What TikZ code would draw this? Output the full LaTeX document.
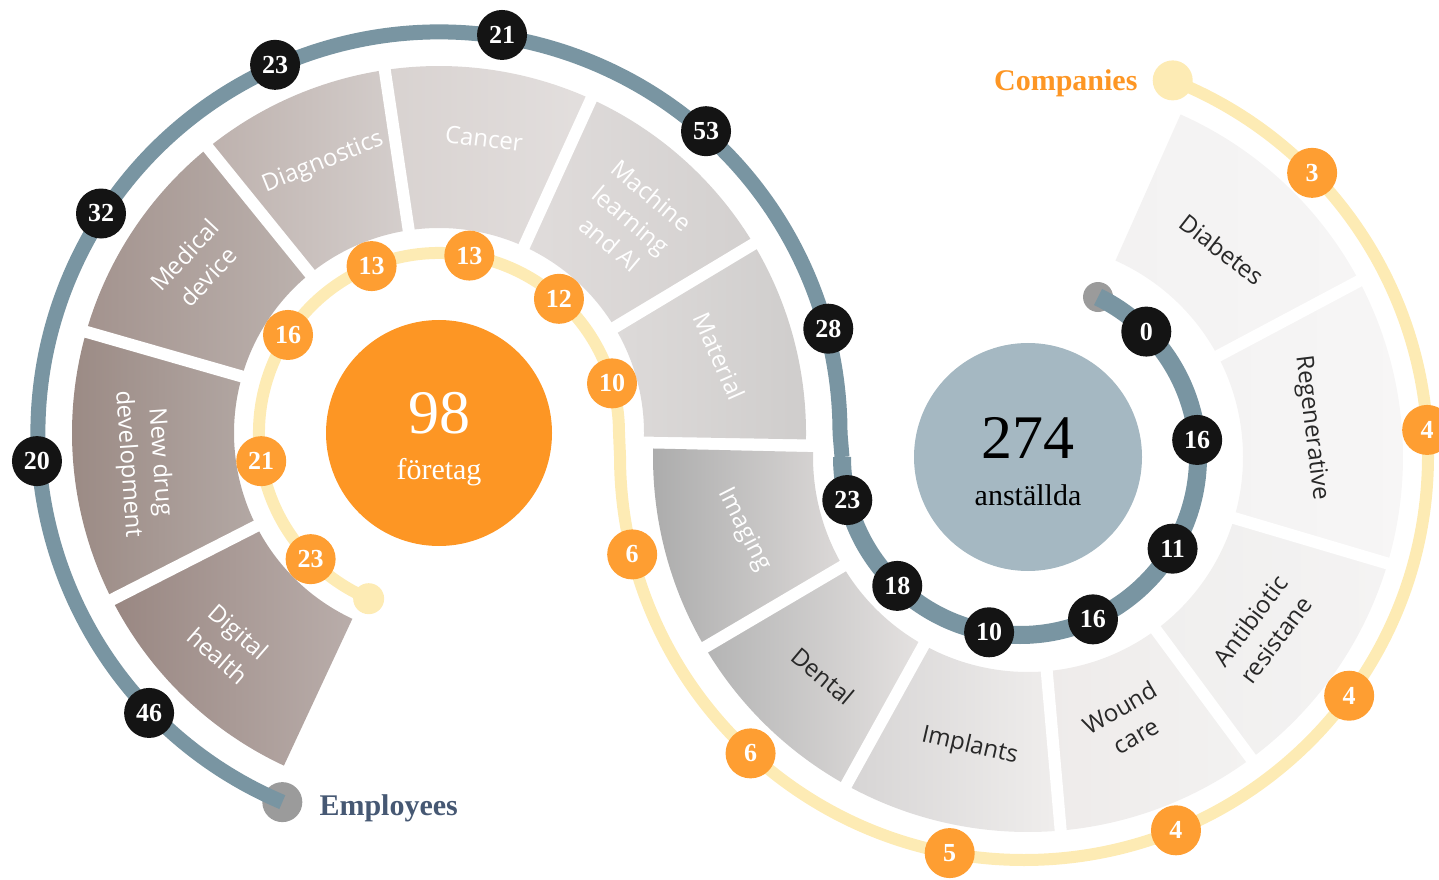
\documentclass[tikz,border=0pt]{standalone}
\usepackage{fontspec}
\setmainfont{Liberation Serif}
\newfontfamily\sansfont{Open Sans}
\usetikzlibrary{calc}
\definecolor{bluspir}{RGB}{121,149,162}
\definecolor{gialspir}{RGB}{253,235,180}
\definecolor{arancio}{RGB}{253,150,36}
\definecolor{aranciob}{RGB}{254,158,50}
\definecolor{nerob}{RGB}{20,20,20}
\definecolor{grigioblu}{RGB}{165,184,194}
\definecolor{puntogr}{RGB}{155,155,155}
\definecolor{titoloblu}{RGB}{70,88,115}
\definecolor{testo}{RGB}{40,40,40}
\definecolor{dhA}{RGB}{153,135,130}\definecolor{dhB}{RGB}{185,173,170}
\definecolor{ndA}{RGB}{154,137,131}\definecolor{ndB}{RGB}{179,168,164}
\definecolor{mdA}{RGB}{163,147,142}\definecolor{mdB}{RGB}{188,178,174}
\definecolor{dgA}{RGB}{189,177,173}\definecolor{dgB}{RGB}{213,207,205}
\definecolor{caA}{RGB}{216,210,208}\definecolor{caB}{RGB}{227,223,222}
\definecolor{mlA}{RGB}{224,220,219}\definecolor{mlB}{RGB}{211,208,207}
\definecolor{maA}{RGB}{221,218,217}\definecolor{maB}{RGB}{207,205,204}
\definecolor{imA}{RGB}{172,172,172}\definecolor{imB}{RGB}{220,217,216}
\definecolor{deA}{RGB}{180,180,180}\definecolor{deB}{RGB}{229,226,225}
\definecolor{ipA}{RGB}{214,212,212}\definecolor{ipB}{RGB}{240,238,237}
\definecolor{woA}{RGB}{238,235,234}\definecolor{woB}{RGB}{243,242,241}
\definecolor{anA}{RGB}{240,239,238}\definecolor{anB}{RGB}{244,243,243}
\definecolor{reA}{RGB}{244,243,243}\definecolor{reB}{RGB}{247,246,246}
\definecolor{diA}{RGB}{243,242,242}\definecolor{diB}{RGB}{246,245,245}

\begin{document}
\begin{tikzpicture}[x=1pt,y=1pt,
    gap/.style={white, line width=12},
    blu/.style={bluspir, line width=15},
    gial/.style={gialspir, line width=12},
    dip/.style={circle, fill=nerob, text=white, minimum size=50, inner sep=0, font=\bfseries\fontsize{26}{26}\selectfont},
    az/.style={circle, fill=aranciob, text=white, minimum size=50, inner sep=0, font=\bfseries\fontsize{26}{26}\selectfont},
    settL/.style={text=white, align=center, font=\sansfont\fontsize{24}{32}\selectfont},
    settR/.style={text=testo, align=center, font=\sansfont\fontsize{24}{32}\selectfont}]
    \useasboundingbox (0,0) rectangle (1439,879);

    % Centri
    \coordinate (L) at (439,446);
    \coordinate (R) at (1028,422);
    \coordinate (Rb) at (1020,422);
    \coordinate (Ry) at (1024,423);

    % Settori a sinistra
    \foreach \a/\b/\ca/\cb in {207/245/dhA/dhB, 164/207/ndA/ndB, 129/164/mdA/mdB, 98.5/129/dgA/dgB, 65.5/98.5/caA/caB, 31/65.5/mlA/mlB, -1/31/maA/maB}
    \shade[left color=\ca, right color=\cb] ($(L)+(\a:205)$) arc[start angle=\a, end angle=\b, radius=205] -- ($(L)+(\b:367)$) arc[start angle=\b, end angle=\a, radius=367] -- cycle;

    % Settori a destra
    \foreach \a/\b/\ca/\cb in {178.7/210.5/imA/imB, 210.5/241/deA/deB, 241/275/ipA/ipB, 275/306.5/woA/woB, 306.5/343.5/anA/anB, 343.5/388/reA/reB, 388/426/diA/diB}
    \shade[left color=\ca, right color=\cb] ($(R)+(\a:215)$) arc[start angle=\a, end angle=\b, radius=215] -- ($(R)+(\b:375)$) arc[start angle=\b, end angle=\a, radius=375] -- cycle;

    % Spazi bianchi
    \foreach \a in {207,164,129,98.5,65.5,31}
    \draw[gap] ($(L)+(\a:195)$) -- ($(L)+(\a:380)$);
    \foreach \a in {210.5,241,275,306.5,343.5,28}
    \draw[gap] ($(R)+(\a:205)$) -- ($(R)+(\a:388)$);

    % Punti finali
    \node[circle, fill=puntogr, minimum size=40, inner sep=0] (pEmp) at ($(L)+(247:401)$) {};
    \node[circle, fill=puntogr, minimum size=30, inner sep=0] (pFine) at ($(Rb)+(64:178)$) {};
    \node[circle, fill=gialspir, minimum size=40, inner sep=0] (pComp) at ($(Ry)+(68.4:404)$) {};
    \node[circle, fill=gialspir, minimum size=31, inner sep=0] (pInizio) at ($(L)+(247:180)$) {};

    % Spirale blu
    \draw[blu] (pEmp.center) arc[start angle=247, end angle=0, radius=401] -- ($(Rb)+(180:178)$);
    \draw[blu, line width=18] ($(Rb)+(180:178)$) arc[start angle=180, end angle=424, radius=178];

    % Spirale gialla
    \draw[gial] (pInizio.center) arc[start angle=247, end angle=0, radius=180] -- ($(Ry)+(180:404)$) arc[start angle=180, end angle=428.4, radius=404];

    % Dipendenti
    \foreach \a/\n [count=\i] in {224/46, 184/20, 147/32, 114/23, 81/21, 48.5/53, 15/28}
    \node[dip] (dL\i) at ($(L)+(\a:403)$) {\n};
    \foreach \a/\n [count=\i] in {194/23, 226.4/18, 260/10, 294.2/16, 329/11, 365.5/16, 404.8/0}
    \node[dip] (dR\i) at ($(Rb)+(\a:178)$) {\n};

    % Aziende
    \foreach \a/\n [count=\i] in {224.5/23, 189/21, 147/16, 112/13, 80.3/13, 48.2/12, 16/10}
    \node[az] (aL\i) at ($(L)+(\a:180)$) {\n};
    \foreach \a/\n [count=\i] in {194.1/6, 227.4/6, 259.4/5, 292.1/4, 323.6/4, 363.7/4, 404.5/3}
    \node[az] (aR\i) at ($(Ry)+(\a:404)$) {\n};

    % Cerchi centrali
    \node[circle, fill=arancio, minimum size=226, inner sep=0] (cL) at (L) {};
    \node[circle, fill=grigioblu, minimum size=228, inner sep=0] (cR) at (R) {};
    \node[text=white, font=\fontsize{62}{62}\selectfont] (n98) at (439,466) {98};
    \node[text=white, font=\fontsize{30}{30}\selectfont] (fore) at (439,407) {företag};
    \node[text=black, font=\fontsize{62}{62}\selectfont] (n274) at (1028,441) {274};
    \node[text=black, font=\fontsize{30}{30}\selectfont] (anst) at (1028,384) {anställda};

    % Etichette settori
    \node[settL, rotate=22] (diagn) at ($(L)+(113.2:294)$) {Diagnostics};
    \node[settL, rotate=-7] (canc) at ($(L)+(81.3:298)$) {Cancer};
    \node[settL, rotate=-40] (mach) at ($(L)+(48:287)$) {Machine\\learning\\and AI};
    \node[settL, rotate=-66] (mate) at ($(L)+(15.3:291)$) {Material};
    \node[settL, rotate=47] (medi) at ($(L)+(145.5:295)$) {Medical\\device};
    \node[settL, rotate=-86] (drug) at ($(L)+(185.8:297)$) {New drug\\development};
    \node[settL, rotate=-41] (digi) at ($(L)+(225:298)$) {Digital\\health};
    \node[settL, rotate=-63] (imag) at ($(R)+(194.4:293)$) {Imaging};
    \node[settR, rotate=-40] (dent) at ($(R)+(226.9:300)$) {Dental};
    \node[settR, rotate=-13] (impl) at ($(R)+(258.6:295)$) {Implants};
    \node[settR, rotate=30] (woun) at ($(R)+(290.7:283)$) {Wound\\care};
    \node[settR, rotate=53] (anti) at ($(R)+(323.6:292)$) {Antibiotic\\resistane};
    \node[settR, rotate=-83] (rege) at ($(R)+(5.85:284.5)$) {Regenerative};
    \node[settR, rotate=-38] (diab) at ($(R)+(46.9:284)$) {Diabetes};

    % Titoli
    \node[anchor=west, text=titoloblu, font=\bfseries\fontsize{30}{30}\selectfont] (emp) at (316,71) {Employees};
    \node[anchor=east, text=arancio, font=\bfseries\fontsize{30}{30}\selectfont] (comp) at (1141,796) {Companies};
\end{tikzpicture}
\end{document}
